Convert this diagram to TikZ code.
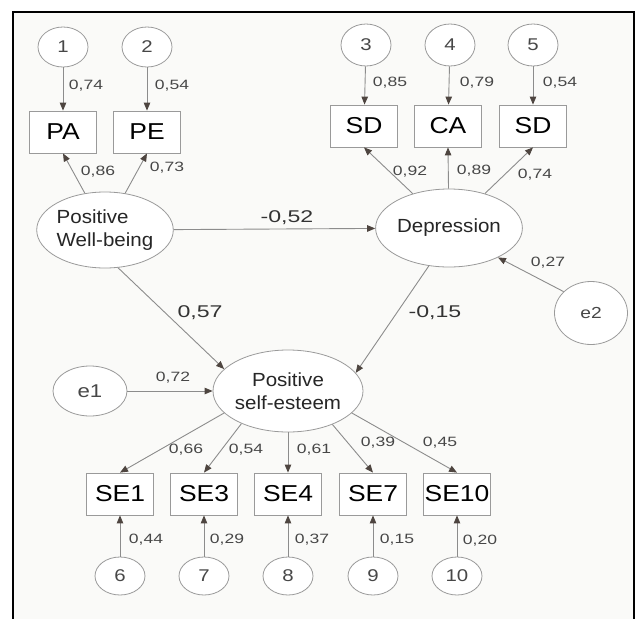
\documentclass[tikz,border=0pt]{standalone}
\usepackage{fontspec}
\setmainfont{Liberation Sans}
\newfontfamily\smallnum{Liberation Sans}[FakeStretch=1.3]
\newfontfamily\bignum{Liberation Sans}[FakeStretch=1.36]
\newfontfamily\boxlab{Liberation Sans}[FakeStretch=1.15]
\newfontfamily\latlab{Liberation Sans}[FakeStretch=1.08]
\newfontfamily\errlab{Liberation Sans}[FakeStretch=1.2]
\usetikzlibrary{arrows.meta,shapes.geometric}

\definecolor{edgegray}{HTML}{8C8C8C}
\definecolor{tipdark}{HTML}{4E4540}
\definecolor{numgray}{HTML}{474747}
\definecolor{outline}{HTML}{9A9A9A}
\definecolor{panel}{HTML}{FAFAF8}

\tikzset{
  conn/.style={draw=edgegray, line width=0.9pt,
    -{Triangle[length=8pt,width=6.5pt,color=tipdark]}},
  errc/.style={ellipse, draw=outline, line width=0.8pt, fill=white,
    inner sep=0pt, minimum width=50pt, minimum height=40pt,
    font=\errlab\fontsize{17}{17}\selectfont, text=numgray},
  obsbox/.style={rectangle, draw=outline, line width=0.8pt, fill=white,
    inner sep=0pt, minimum width=67pt, minimum height=42pt,
    font=\boxlab\fontsize{23}{23}\selectfont, text=black},
  latent/.style={ellipse, draw=outline, line width=0.8pt, fill=white,
    inner sep=0pt, minimum width=132pt, minimum height=78pt, align=center,
    font=\latlab\fontsize{19}{23}\selectfont, text=black!85},
  coef/.style={inner sep=0pt, font=\smallnum\fontsize{13.5}{14}\selectfont, text=numgray},
  path/.style={inner sep=0pt, font=\bignum\fontsize{17}{17}\selectfont, text=black!80}
}

\begin{document}
\begin{tikzpicture}[x=1pt,y=-1pt]
\useasboundingbox (0,0) rectangle (638,619);
\fill[panel] (14,13) rectangle (633,619);
\draw[line width=2pt] (13,619) -- (13,12) -- (634,12) -- (634,619);

% Positive well-being block
\node[errc] (c1) at (63,47) {1};
\node[errc] (c2) at (147,47) {2};
\node[obsbox] (PA) at (63,132) {PA};
\node[obsbox] (PE) at (147,132) {PE};
\node[latent, minimum height=76pt, align=left] (PWB) at (105,230) {Positive\\Well-being};

% Depression block
\node[errc, minimum height=42pt] (c3) at (366,45) {3};
\node[errc, minimum height=42pt] (c4) at (450,45) {4};
\node[errc, minimum height=42pt] (c5) at (533,45) {5};
\node[obsbox] (SDa) at (364,126) {SD};
\node[obsbox] (CA) at (448,126) {CA};
\node[obsbox] (SDb) at (533,126) {SD};
\node[latent] (Dep) at (449,228) {Depression};
\node[errc, minimum width=73pt, minimum height=63pt,
  font=\errlab\fontsize{16}{16}\selectfont] (e2) at (591,313) {e2};

% Self-esteem block
\node[latent, minimum height=82pt] (PSE) at (288,391) {Positive\\self-esteem};
\node[errc, minimum width=74pt, minimum height=50pt,
  font=\errlab\fontsize{18.5}{18.5}\selectfont] (e1) at (90,391) {e1};
\node[obsbox] (SE1) at (120,494) {SE1};
\node[obsbox] (SE3) at (204,494) {SE3};
\node[obsbox] (SE4) at (288,494) {SE4};
\node[obsbox] (SE7) at (373,494) {SE7};
\node[obsbox] (SE10) at (457,494) {SE10};
\node[errc, minimum height=38pt] (c6) at (120,576) {6};
\node[errc, minimum height=38pt] (c7) at (204,576) {7};
\node[errc, minimum height=38pt] (c8) at (288,576) {8};
\node[errc, minimum height=38pt] (c9) at (373,576) {9};
\node[errc, minimum height=38pt] (c10) at (457,576) {10};

% Error terms into indicators
\draw[conn] (c1) -- (PA);
\draw[conn] (c2) -- (PE);
\draw[conn] (c3) -- (SDa);
\draw[conn] (c4) -- (CA);
\draw[conn] (c5) -- (SDb);
\draw[conn] (c6) -- (SE1);
\draw[conn] (c7) -- (SE3);
\draw[conn] (c8) -- (SE4);
\draw[conn] (c9) -- (SE7);
\draw[conn] (c10) -- (SE10);

% Loadings
\draw[conn] (PWB) -- (PA.south);
\draw[conn] (PWB) -- (PE.south);
\draw[conn] (Dep) -- (SDa.south);
\draw[conn] (Dep) -- (CA.south);
\draw[conn] (Dep) -- (SDb.south);
\draw[conn] (PSE.199) -- (SE1.north);
\draw[conn] (PSE.215) -- (SE3.north);
\draw[conn] (PSE.south) -- (SE4.north);
\draw[conn] (PSE.-37) -- (SE7.north);
\draw[conn] (PSE.-19) -- (SE10.north);

% Structural paths and disturbances
\draw[conn] (PWB) -- (Dep);
\draw[conn] (PWB.-71) -- (PSE.161);
\draw[conn] (Dep.-118) -- (PSE.15);
\draw[conn] (e2.142) -- (Dep.-31);
\draw[conn] (e1) -- (PSE);

% Coefficients
\node[coef] (k1) at (86,86) {0,74};
\node[coef] (k2) at (172,86) {0,54};
\node[coef] (k3) at (98,172) {0,86};
\node[coef] (k4) at (167,168) {0,73};
\node[coef] (k5) at (390,83) {0,85};
\node[coef] (k6) at (477,83) {0,79};
\node[coef] (k7) at (560,83) {0,54};
\node[coef] (k8) at (410,172) {0,92};
\node[coef] (k9) at (474,171) {0,89};
\node[coef] (k10) at (535,175) {0,74};
\node[coef] (k11) at (548,263) {0,27};
\node[coef] (k12) at (173,378) {0,72};
\node[coef] (k13) at (186,450) {0,66};
\node[coef] (k14) at (246,450) {0,54};
\node[coef] (k15) at (314,450) {0,61};
\node[coef] (k16) at (378,443) {0,39};
\node[coef] (k17) at (440,443) {0,45};
\node[coef] (k18) at (146,540) {0,44};
\node[coef] (k19) at (227,540) {0,29};
\node[coef] (k20) at (312,540) {0,37};
\node[coef] (k21) at (397,540) {0,15};
\node[coef] (k22) at (480,541) {0,20};
\node[path] (p1) at (287,218) {-0,52};
\node[path] (p2) at (200,313) {0,57};
\node[path] (p3) at (435,313) {-0,15};
\end{tikzpicture}
\end{document}
